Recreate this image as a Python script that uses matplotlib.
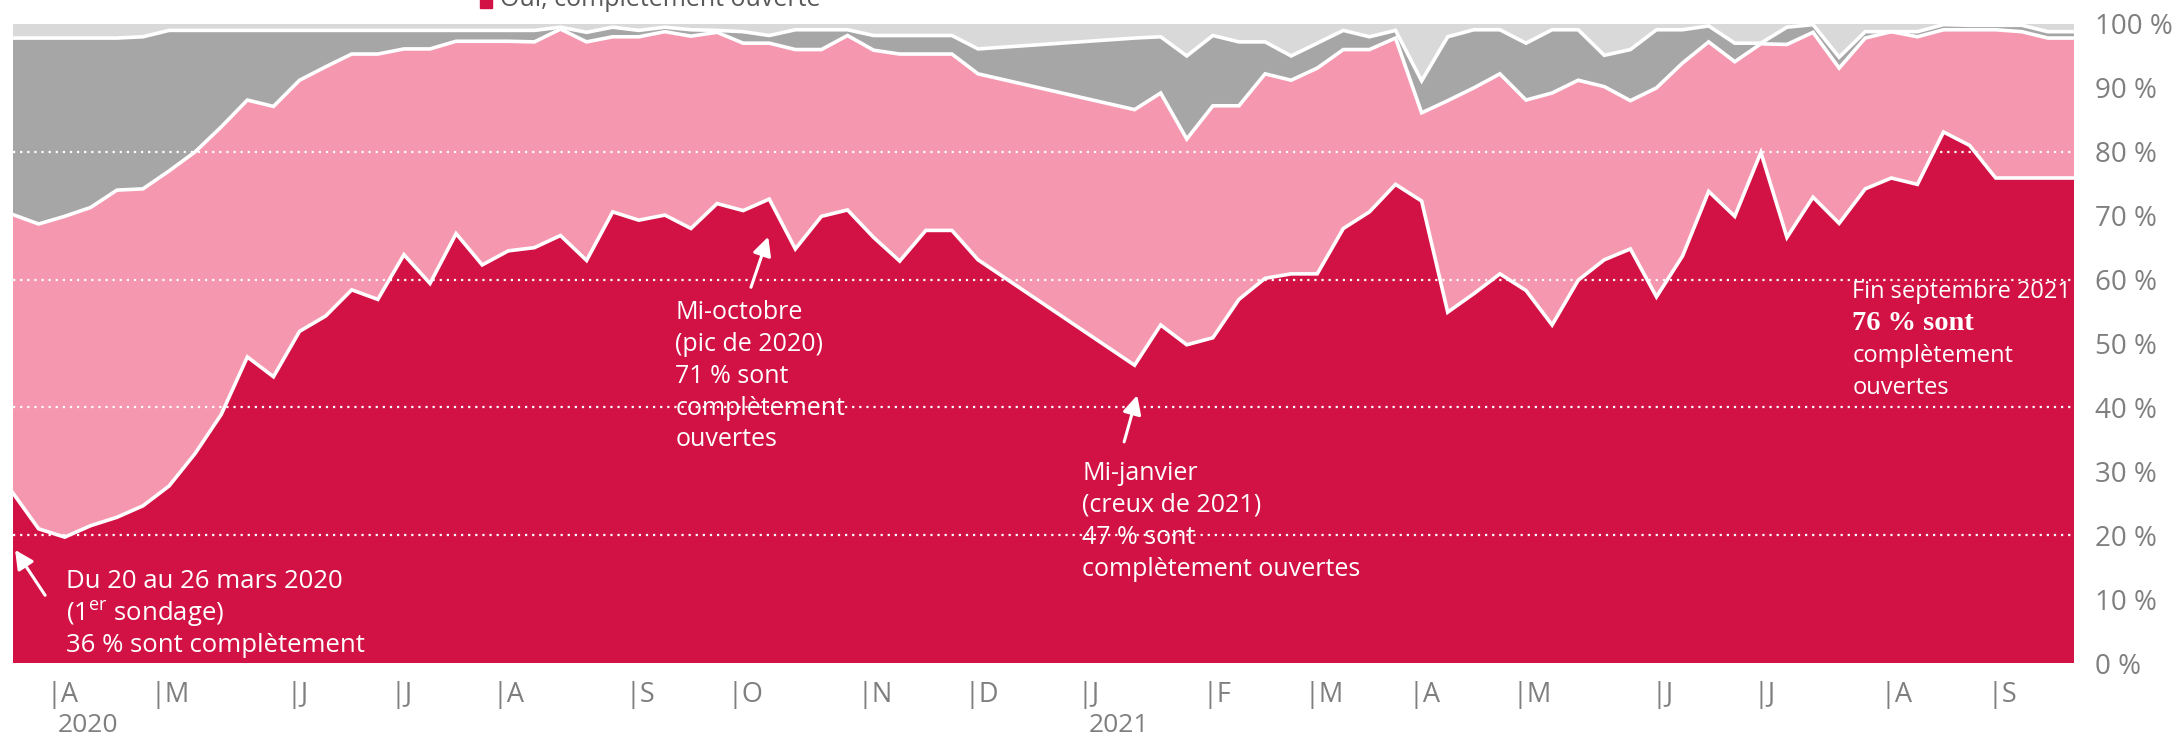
import numpy as np
import matplotlib
matplotlib.use("Agg")
import matplotlib.pyplot as plt
from matplotlib.patches import Rectangle

plt.rcParams['font.family'] = ['Open Sans', 'DejaVu Sans']
plt.rcParams['mathtext.fontset'] = 'custom'
plt.rcParams['mathtext.rm'] = 'Open Sans'

# semaine de sondage (0 = 20-26 mars 2020), pas de sondage entre mi-decembre et mi-janvier
semaine = list(range(0, 38)) + list(range(43, 80))

# parts en %
completement = [26.7, 21.0, 19.7, 21.5, 22.8, 24.6, 27.7, 32.8, 38.9, 47.9,
                44.8, 51.9, 54.3, 58.4, 56.9, 63.9, 59.4, 67.2, 62.3, 64.5,
                65.0, 66.9, 63.0, 70.6, 69.3, 70.1, 68.0, 71.9, 70.8, 72.6,
                64.8, 69.9, 70.9, 66.6, 62.9, 67.7, 67.7, 63.1,
                46.6, 52.9, 49.8, 50.9, 56.9, 60.2, 60.9, 60.9, 68.0, 70.6,
                74.9, 72.3, 54.9, 57.8, 60.9, 58.3, 52.9, 59.9, 63.1, 64.8,
                57.3, 63.7, 73.8, 69.9, 79.9, 66.6, 72.9, 68.8, 74.2, 75.9,
                74.9, 83.1, 81.0, 75.9, 75.9, 75.9, 75.9]
partiellement = [43.5, 47.7, 50.2, 49.8, 51.2, 49.6, 49.3, 47.2, 45.0, 40.2,
                 42.3, 39.3, 39.0, 36.9, 38.4, 32.2, 36.7, 30.1, 35.0, 32.8,
                 32.2, 32.3, 34.2, 27.4, 28.7, 28.7, 30.1, 26.8, 26.2, 24.4,
                 31.2, 26.1, 27.3, 29.3, 32.4, 27.6, 27.6, 29.1,
                 40.0, 36.3, 32.2, 36.3, 30.3, 32.0, 30.3, 32.2, 28.0, 25.4,
                 22.9, 13.8, 33.1, 32.2, 31.3, 29.8, 36.3, 31.3, 27.1, 23.2,
                 32.7, 30.2, 23.4, 24.2, 17.0, 30.2, 25.8, 24.3, 23.6, 22.9,
                 23.1, 16.0, 18.1, 23.2, 22.9, 21.9, 21.9]
fermees = [27.6, 29.1, 27.9, 26.5, 23.8, 23.8, 22.0, 19.0, 15.1, 10.9,
           11.9, 7.8, 5.7, 3.7, 3.7, 2.9, 2.9, 1.7, 1.7, 1.7,
           1.8, 0.3, 1.5, 1.5, 1.0, 0.7, 1.0, 0.3, 1.8, 1.2,
           3.1, 3.1, 0.9, 2.3, 2.9, 2.9, 2.9, 3.9,
           11.2, 8.8, 13.0, 11.0, 10.0, 5.0, 3.8, 3.9, 3.0, 2.0,
           1.2, 5.0, 10.0, 9.1, 6.9, 8.9, 9.9, 7.9, 4.9, 8.0,
           9.1, 5.2, 2.5, 2.9, 0.1, 2.7, 1.2, 1.7, 1.0, 0.0,
           0.8, 0.8, 0.7, 0.7, 1.0, 1.0, 1.0]
autre = [2.2, 2.2, 2.2, 2.2, 2.2, 2.0, 1.0, 1.0, 1.0, 1.0,
         1.0, 1.0, 1.0, 1.0, 1.0, 1.0, 1.0, 1.0, 1.0, 1.0,
         1.0, 0.5, 1.3, 0.5, 1.0, 0.5, 0.9, 1.0, 1.2, 1.8,
         0.9, 0.9, 0.9, 1.8, 1.8, 1.8, 1.8, 3.9,
         2.2, 2.0, 5.0, 1.8, 2.8, 2.8, 5.0, 3.0, 1.0, 2.0,
         1.0, 8.9, 2.0, 0.9, 0.9, 3.0, 0.9, 0.9, 4.9, 4.0,
         0.9, 0.9, 0.3, 3.0, 3.0, 0.5, 0.1, 5.2, 1.2, 1.2,
         1.2, 0.1, 0.2, 0.2, 0.2, 1.2, 1.2]

mois = ['A', 'M', 'J', 'J', 'A', 'S', 'O', 'N', 'D',
        'J', 'F', 'M', 'A', 'M', 'J', 'J', 'A', 'S']
pos_mois = [1.3, 5.3, 10.5, 14.5, 18.4, 23.5, 27.4, 32.4, 36.5,
            40.8, 45.6, 49.5, 53.5, 57.5, 62.8, 66.7, 71.6, 75.7]
annees = ['2020', '2021']
pos_annees = [1.75, 41.25]

couleurs = ['#D21245', '#F597AE', '#A6A6A6', '#D9D9D9']
gris_txt = '#7F7F7F'

fig = plt.figure(figsize=(21.8, 7.4), dpi=100)
ax = fig.add_axes([12.5 / 2180, 77 / 740, (2074 - 12.5) / 2180, (663 - 24) / 740])

x = np.array(semaine)
parts = np.array([completement, partiellement, fermees, autre])
ax.stackplot(x, parts, colors=couleurs, lw=0, zorder=1)
cumul = np.cumsum(parts, axis=0)
for i in range(3):
    ax.plot(x, cumul[i], color='white', lw=2.6, solid_joinstyle='miter', zorder=2)

for g in [20, 40, 60, 80]:
    ax.axhline(g, color='white', lw=1.6, linestyle=(0, (1, 2.2)), zorder=5)

ax.set_xlim(0, 79)
ax.set_ylim(0, 100)
for s in ax.spines.values():
    s.set_visible(False)

ax.yaxis.tick_right()
ax.set_yticks(range(0, 101, 10))
ax.set_yticklabels(['%d %%' % v for v in range(0, 101, 10)])
ax.tick_params(axis='y', length=0, pad=15, labelsize=20, labelcolor=gris_txt)
for lab in ax.get_yticklabels():
    lab.set_horizontalalignment('left')

ax.set_xticks(pos_mois)
ax.set_xticklabels(['|' + m for m in mois], ha='left')
ax.tick_params(axis='x', length=0, pad=13, labelsize=19.5, labelcolor=gris_txt)
for a, p in zip(annees, pos_annees):
    ax.text(p, -7.9, a, transform=ax.transData, fontsize=19, color=gris_txt,
            va='top', ha='left', clip_on=False)

# annotations
def bloc(xk, y0, lignes, taille=18, fonts=None):
    for i, l in enumerate(lignes):
        kw = dict(color='white', fontsize=taille, va='center', ha='left', zorder=4)
        if fonts and i in fonts:
            kw.update(fonts[i])
        ax.text(xk, y0 - i * 5.0, l, **kw)

fl = dict(arrowstyle='-|>', color='white', lw=2.2, mutation_scale=28, shrinkA=0, shrinkB=0)

bloc(2.05, 12.7, ['Du 20 au 26 mars 2020', '(1$^{\\mathrm{er}}$ sondage)',
                  '36 % sont complètement'], taille=18.5)
ax.annotate('', xy=(0.1, 17.7), xytext=(1.25, 10.6), arrowprops=fl, zorder=4)

bloc(25.4, 54.9, ['Mi-octobre', '(pic de 2020)', '71 % sont',
                  'complètement', 'ouvertes'])
ax.annotate('', xy=(28.96, 66.7), xytext=(28.3, 58.8), arrowprops=fl, zorder=4)

bloc(41.0, 29.7, ['Mi-janvier', '(creux de 2021)', '47 % sont',
                  'complètement ouvertes'])
ax.annotate('', xy=(43.1, 41.9), xytext=(42.6, 34.6), arrowprops=fl, zorder=4)

bloc(70.5, 58.1, ['Fin septembre 2021', '76 % sont', 'complètement', 'ouvertes'],
     taille=17, fonts={1: dict(family=['Liberation Serif', 'DejaVu Serif'],
                               fontweight='bold', fontsize=20.5)})
ax.annotate('', xy=(79.1, 70.6), xytext=(78.6, 63.1), arrowprops=fl, zorder=4)

# legende (coupee en haut)
fig.patches.append(Rectangle((480 / 2180, 732 / 740), 12 / 2180, 14 / 740,
                             transform=fig.transFigure, color=couleurs[0]))
fig.text(500 / 2180, 734 / 740, 'Oui, complètement ouverte', fontsize=18,
         color='#595959', va='baseline', ha='left')

fig.savefig('out.png', dpi=100)
